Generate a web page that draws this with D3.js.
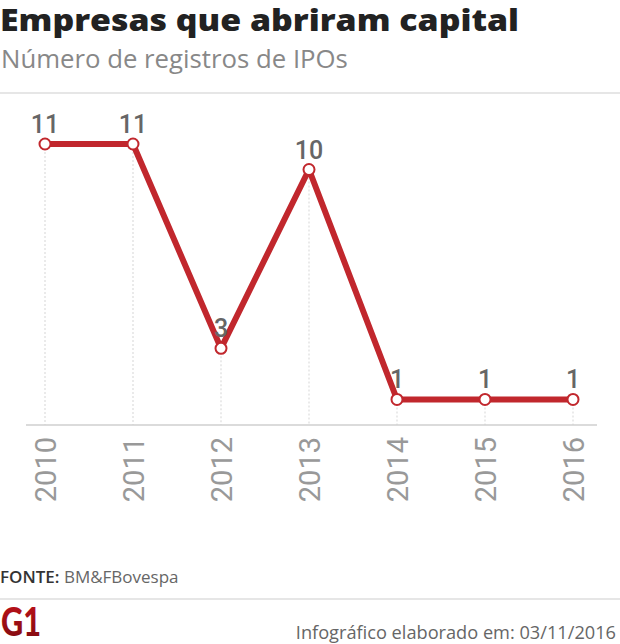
<!DOCTYPE html>
<html><head><meta charset="utf-8">
<script src="https://cdn.jsdelivr.net/npm/d3@7"></script>
<style>body{margin:0;background:#fff}svg{display:block}</style>
</head><body>
<script>
const years = ["2010","2011","2012","2013","2014","2015","2016"];
const ipos = [11, 11, 3, 10, 1, 1, 1];
const title = "Empresas que abriram capital";
const subtitle = "Número de registros de IPOs";
const sourceLabel = "FONTE:";
const sourceText = "BM&FBovespa";
const footer = "Infográfico elaborado em: 03/11/2016";

const W = 620, H = 644;
const svg = d3.select("body").append("svg").attr("width", W).attr("height", H);

// title
svg.append("text").attr("x", 0).attr("y", 31)
  .attr("font-family", "Open Sans").attr("font-weight", 800).attr("font-size", 29.5)
  .attr("textLength", 519).attr("lengthAdjust", "spacingAndGlyphs")
  .attr("fill", "#222").text(title);

const st = svg.append("text").attr("x", 1).attr("y", 68)
  .attr("font-family", "Open Sans").attr("font-weight", 500).attr("font-size", 25)
  .attr("fill", "#888").text(subtitle);
const sw = st.node().getComputedTextLength();
st.attr("font-size", 25 * 347 / sw);

svg.append("rect").attr("x", 0).attr("y", 92).attr("width", W).attr("height", 2).attr("fill", "#e6e6e6");

const x = d3.scalePoint().domain(years).range([45, 573]);
const y = d3.scaleLinear().domain([0, 11]).range([425, 144]);

// drop lines
svg.append("g").selectAll("line").data(years).join("line")
  .attr("x1", d => x(d)).attr("x2", d => x(d))
  .attr("y1", (d, i) => y(ipos[i])).attr("y2", y(0))
  .attr("stroke", "#e4e4e4").attr("stroke-width", 1.5).attr("stroke-dasharray", "2,2");

// axis
const axis = svg.append("g").attr("transform", `translate(0,${y(0)})`)
  .call(d3.axisBottom(x).tickSize(0).tickPadding(0));
axis.select(".domain").remove();
axis.append("line").attr("x1", 26).attr("x2", 597).attr("stroke", "#cfcfcf").attr("stroke-width", 1.5);
axis.selectAll(".tick text")
  .attr("transform", "rotate(-90)")
  .attr("x", -12).attr("y", 0).attr("dy", "0.36em")
  .attr("text-anchor", "end")
  .attr("font-family", "Roboto").attr("font-size", 29).attr("fill", "#999");

// line
const line = d3.line().x((d, i) => x(years[i])).y(d => y(d));
svg.append("path").datum(ipos).attr("d", line)
  .attr("fill", "none").attr("stroke", "#c1272d").attr("stroke-width", 6)
  .attr("stroke-linejoin", "round");

svg.append("g").selectAll("circle").data(ipos).join("circle")
  .attr("cx", (d, i) => x(years[i])).attr("cy", d => y(d)).attr("r", 5.5)
  .attr("fill", "#fff").attr("stroke", "#c1272d").attr("stroke-width", 2);

svg.append("g").selectAll("text").data(ipos).join("text")
  .attr("x", (d, i) => x(years[i])).attr("y", d => y(d) - 11)
  .attr("text-anchor", "middle")
  .attr("font-family", "Roboto").attr("font-weight", 500).attr("font-size", 25).attr("fill", "#666")
  .text(d => d);

// source
const src = svg.append("text").attr("x", 0).attr("y", 583)
  .attr("font-family", "Open Sans").attr("font-size", 17);
src.append("tspan").attr("font-weight", 600).attr("fill", "#333").text(sourceLabel + " ");
src.append("tspan").attr("fill", "#666").text(sourceText);

svg.append("rect").attr("x", 0).attr("y", 598).attr("width", W).attr("height", 2).attr("fill", "#e6e6e6");

// logo
const defs = svg.append("defs");
const grad = defs.append("linearGradient").attr("id", "g1grad").attr("x1", 0).attr("x2", 0).attr("y1", 0).attr("y2", 1);
grad.append("stop").attr("offset", "0%").attr("stop-color", "#c4121a");
grad.append("stop").attr("offset", "100%").attr("stop-color", "#7a0a10");
svg.append("text").attr("x", 1).attr("y", 636)
  .attr("font-family", "Lato").attr("font-weight", 900).attr("font-size", 40)
  .attr("textLength", 40).attr("lengthAdjust", "spacingAndGlyphs")
  .attr("fill", "url(#g1grad)").text("G1");

svg.append("text").attr("x", 616).attr("y", 639).attr("text-anchor", "end")
  .attr("font-family", "Open Sans").attr("font-size", 18.2).attr("fill", "#666")
  .text(footer);
</script>
</body></html>
